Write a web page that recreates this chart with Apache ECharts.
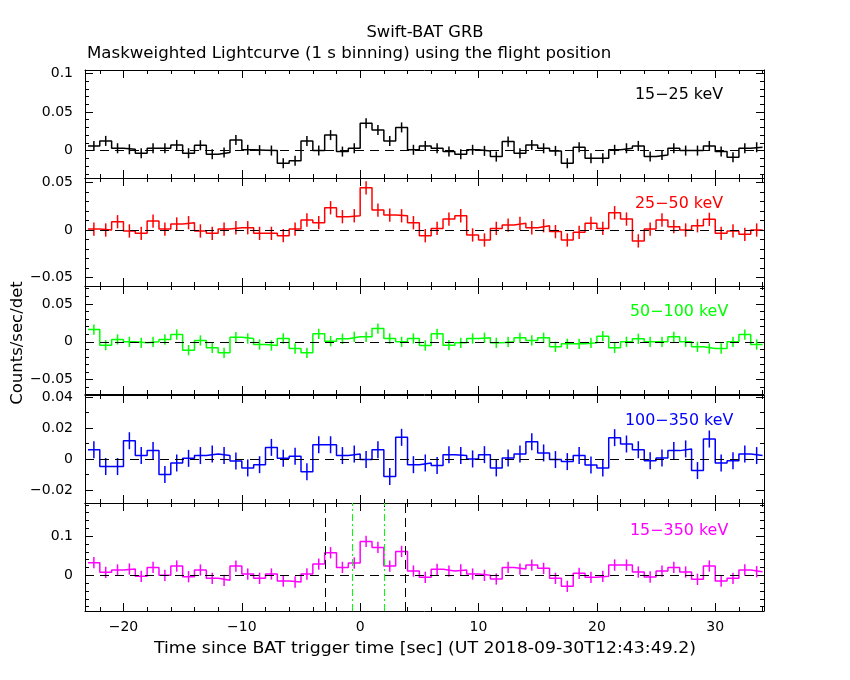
<!DOCTYPE html>
<html><head><meta charset="utf-8">
<script src="https://cdn.jsdelivr.net/npm/echarts@6/dist/echarts.min.js"></script>
<style>html,body{margin:0;padding:0;background:#fff}#c{width:850px;height:680px}</style>
</head><body><div id="c"></div>
<script>
// Left edges of the 1 s bins (s since trigger); last entry is the right edge of the final bin
const binEdges = [-23,-22,-21,-20,-19,-18,-17,-16,-15,-14,-13,-12,-11,-10,-9,-8,-7,-6,-5,-4,-3,-2,-1,0,1,2,3,4,5,6,7,8,9,10,11,12,13,14,15,16,17,18,19,20,21,22,23,24,25,26,27,28,29,30,31,32,33,34];

const band15_25 = [0.006,0.0125,0.003,0.0017,-0.0034,0.003,0.003,0.0073,-0.0034,0.0069,-0.0047,-0.0026,0.0138,0.001,0.0005,0.0,-0.0164,-0.0133,0.0125,0.0,0.020,-0.0013,0.003,0.0353,0.0267,0.0125,0.030,0.001,
  0.006,0.003,-0.0013,-0.0047,0.001,-0.0004,-0.0078,0.0116,-0.0034,0.0073,0.003,-0.0004,-0.0164,0.0043,-0.0099,-0.0099,0.001,0.003,0.006,-0.0078,-0.0056,0.003,0.0,0.0,0.006,-0.0013,-0.0086,0.003,0.0043];
const band25_50 = [0.001,0,0.0087,-0.001,-0.0035,0.0094,0.001,0.0063,0.0077,-0.001,-0.0035,0.001,0.0024,0.0024,-0.0035,-0.0035,-0.006,0.001,0.0105,0.0077,0.0234,0.014,0.015,0.0444,0.021,0.0157,0.015,0.0077,
  -0.006,0.0017,0.0115,0.015,-0.0052,-0.0105,0.0017,0.0052,0.007,0.0024,0.0045,-0.0017,-0.0105,-0.0024,0.007,0.0017,0.0182,0.0115,-0.0115,0.001,0.0105,0.0035,0,0.0045,0.0112,-0.0035,-0.001,-0.0045,0];
const band50_100 = [0.0162,-0.0044,0.0031,0,-0.0013,0,0.0031,0.0096,-0.011,0.0018,-0.0079,-0.0145,0.0061,0.0044,-0.0035,-0.0048,0.0044,-0.0088,-0.0145,0.0105,0.0009,0.004,0.0066,0.0066,0.0175,0.0044,0,0.0044,
  -0.0048,0.0105,-0.0044,-0.0013,0.0044,0.0053,-0.0013,0,0.0053,0.0018,0.0053,-0.0066,-0.0026,-0.0026,-0.0013,0.0075,-0.0079,0,0.004,0,0,0.0066,0,-0.0066,-0.0088,-0.0088,0,0.0096,-0.0035];
const band100_350 = [0.006,-0.0049,-0.0049,0.0118,0.0022,0.0054,-0.0101,-0.0026,0.0004,0.0022,0.0032,0.0022,-0.0013,-0.0058,-0.0037,0.0075,0.0004,0.0017,-0.0082,0.0092,0.0092,0.0022,0.0032,-0.0004,0.006,-0.0114,0.014,-0.0037,
  -0.0026,-0.0043,0.0028,0.0022,0,0.0028,-0.0058,0.0006,0.0032,0.0112,0.0039,-0.0004,-0.0017,0.0022,-0.0039,-0.0058,0.0138,0.0097,0.006,-0.0011,0.0006,0.0054,0.0065,-0.0075,0.0129,-0.0026,-0.0011,0.0032,0.0022];
const band15_350 = [0.0322,0.0076,0.0136,0.0161,-0.0025,0.0203,0,0.0237,-0.0034,0.0136,-0.0076,-0.0127,0.0237,0.0034,-0.0076,0.0034,-0.0144,-0.0169,0.0034,0.0288,0.0576,0.0203,0.0314,0.0864,0.0712,0.0237,0.061,0.011,
  -0.0051,0.0153,0.011,0.0136,0.0034,0,-0.0093,0.0203,0.0161,0.0263,0.0178,-0.0076,-0.028,0.0051,-0.0051,-0.0025,0.0263,0.0263,0.0085,-0.0042,0.011,0.0203,0.0085,-0.0102,0.0237,-0.0144,-0.0076,0.0136,0.0093];

// typical 1-sigma error per band
const bandErrors = [0.0065, 0.007, 0.0068, 0.0055, 0.0144];
const bandLabels = ['15\u221225 keV','25\u221250 keV','50\u2212100 keV','100\u2212350 keV','15\u2212350 keV'];
const bandColors = ['#000000','#ff0000','#00ff00','#0000ff','#ff00ff'];
const bandValues = [band15_25, band25_50, band50_100, band100_350, band15_350];
const yRanges = [[-0.0355,0.1043],[-0.0589,0.0547],[-0.0688,0.0736],[-0.0285,0.0414],[-0.0909,0.1845]];
const ySplit = [3,2,3,3,3];
const yMinorSplit = [5,5,5,2,5];
const xRange = [-23.25, 34.12];
const t90Lines = [-2.98, 3.83];     // black dashed
const t50Lines = [-0.67, 2.03];     // green dash-dot

const FONT = '"DejaVu Sans", sans-serif';
const tops = [70, 178, 286, 395, 503];
const H = 108;
const labelY = [95, 204, 312, 421, 531];
const labelX = [635, 635, 630, 625, 630];

const fmt = v => { if (Math.abs(v) < 1e-9) return '0'; return String(+v.toFixed(4)).replace('-', '\u2212'); };

const grids = [], xAxes = [], yAxes = [], series = [];
for (let i = 0; i < 5; i++) {
  grids.push({left: 85, width: 679, top: tops[i], height: H, show: false});
  const tick = {show: true, inside: true, length: 8, lineStyle: {color: '#000', width: 1}};
  const line = {show: true, onZero: false, lineStyle: {color: '#000', width: 1}};
  const mkX = (pos, lab) => ({
    type: 'value', gridIndex: i, position: pos, min: xRange[0], max: xRange[1], splitNumber: 5,
    axisLine: line, axisTick: tick,
    minorTick: {show: true, splitNumber: 5, length: 4, lineStyle: {color: '#000', width: 1}},
    splitLine: {show: false}, minorSplitLine: {show: false},
    axisLabel: {show: lab, showMinLabel: false, showMaxLabel: false, color: '#000', fontFamily: FONT, fontSize: 14, margin: 9, formatter: fmt}
  });
  const mkY = (pos, lab) => ({
    type: 'value', gridIndex: i, position: pos, min: yRanges[i][0], max: yRanges[i][1], splitNumber: ySplit[i],
    axisLine: line, axisTick: tick,
    minorTick: {show: true, splitNumber: yMinorSplit[i], length: 4, lineStyle: {color: '#000', width: 1}},
    splitLine: {show: false}, minorSplitLine: {show: false},
    axisLabel: {show: lab, showMinLabel: false, showMaxLabel: false, color: '#000', fontFamily: FONT, fontSize: 14, margin: 12, formatter: fmt}
  });
  xAxes.push(mkX('bottom', i === 4));
  xAxes.push(mkX('top', false));
  yAxes.push(mkY('left', true));
  yAxes.push(mkY('right', false));

  const vals = bandValues[i];
  const stepData = binEdges.map((e, k) => [e, vals[Math.min(k, vals.length - 1)]]);
  const mlData = [{yAxis: 0, lineStyle: {color: '#000', type: [9, 6], width: 1}}];
  if (i === 4) {
    t90Lines.forEach(x => mlData.push({xAxis: x, lineStyle: {color: '#000', type: [9, 5], width: 1}}));
    t50Lines.forEach(x => mlData.push({xAxis: x, lineStyle: {color: '#00ff00', type: [7, 3, 2, 3], width: 1}}));
  }
  series.push({
    type: 'line', xAxisIndex: 2 * i, yAxisIndex: 2 * i, data: stepData, step: 'end',
    showSymbol: false, symbol: 'none', lineStyle: {color: bandColors[i], width: 1.5}, z: 3,
    markLine: {silent: true, symbol: 'none', label: {show: false}, animation: false, data: mlData}
  });
  const errData = vals.map((v, k) => [binEdges[k] + 0.5, v, bandErrors[i]]);
  const col = bandColors[i];
  series.push({
    type: 'custom', xAxisIndex: 2 * i, yAxisIndex: 2 * i, data: errData, encode: {x: 0, y: 1}, z: 4,
    renderItem: (params, api) => {
      const x = api.value(0), y = api.value(1), e = api.value(2);
      const a = api.coord([x, y - e]), b = api.coord([x, y + e]);
      return {type: 'line', shape: {x1: a[0], y1: a[1], x2: b[0], y2: b[1]}, style: {stroke: col, lineWidth: 1.5}};
    }
  });
}

const txt = (text, x, y, size, sx, align, fill, rot) => ({
  type: 'text', x: x, y: y, rotation: rot || 0, scaleX: sx, scaleY: 1,
  style: {text: text, font: size + 'px ' + FONT, fill: fill || '#000', align: align, verticalAlign: 'middle'}
});
const graphics = [
  txt('Swift-BAT GRB', 425, 33, 15, 1.09, 'center'),
  txt('Maskweighted Lightcurve (1 s binning) using the flight position', 87, 54, 15, 1.107, 'left'),
  txt('Time since BAT trigger time [sec] (UT 2018-09-30T12:43:49.2)', 425, 649, 15, 1.156, 'center'),
  txt('Counts/sec/det', 18, 343, 15, 1.1, 'center', '#000', Math.PI / 2)
];
for (let i = 0; i < 5; i++) {
  graphics.push(txt(bandLabels[i], labelX[i], labelY[i], 15, 1.06, 'left', bandColors[i]));
}

const chart = echarts.init(document.getElementById('c'), null, {renderer: 'canvas'});
chart.setOption({
  animation: false, backgroundColor: '#fff',
  grid: grids, xAxis: xAxes, yAxis: yAxes, series: series, graphic: graphics
});
</script></body></html>
